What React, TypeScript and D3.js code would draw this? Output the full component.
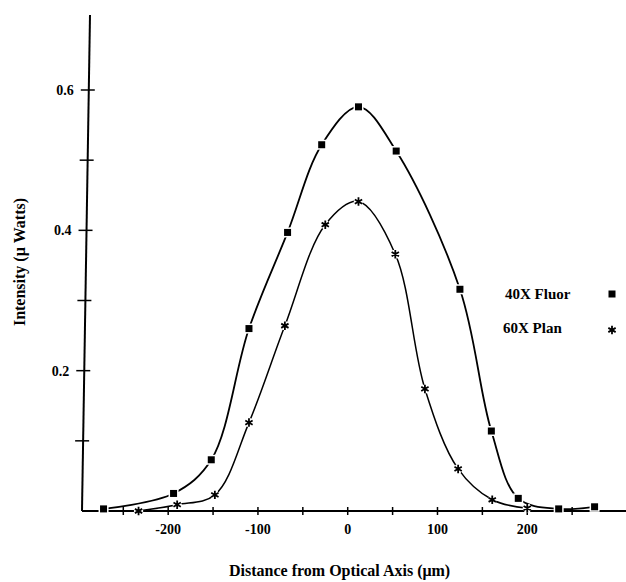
import React from 'react'
import * as d3 from 'd3'

// values
const fluorX = [-272, -194, -152, -110, -67, -29, 12, 54, 125, 160, 190, 235, 275]
const fluorY = [0.003, 0.025, 0.073, 0.26, 0.397, 0.522, 0.576, 0.513, 0.316, 0.114, 0.018, 0.003, 0.006]
const planX = [-233, -190, -148, -110, -70, -25, 12, 53, 86, 123, 161, 200]
const planY = [0, 0.009, 0.023, 0.126, 0.264, 0.408, 0.441, 0.366, 0.174, 0.06, 0.016, 0.004]

const xTicks = [-250, -200, -150, -100, -50, 0, 50, 100, 150, 200, 250]
const xLabels = [-200, -100, 0, 100, 200]
const yTicks = [0.1, 0.2, 0.3, 0.4, 0.5, 0.6]
const yLabels = [0.2, 0.4, 0.6]
const seriesNames = ['40X Fluor', '60X Plan']

const W = 626
const H = 582
const font = '"Liberation Serif", "Times New Roman", serif'

export default function App() {
  const x = d3.scaleLinear().domain([-296, 310]).range([82, 626])
  const y = d3.scaleLinear().domain([0, 0.6]).range([511, 90])
  const yTop = y.invert(15)
  // the scanned y axis leans a little to the right towards the top
  const axisX = d3.scaleLinear().domain([0, yTop]).range([x(-296), x(-296) + 8])

  const line = d3
    .line<[number, number]>()
    .x(d => x(d[0]))
    .y(d => y(d[1]))
    .curve(d3.curveCatmullRom.alpha(0.5))

  const fluor = fluorX.map((v, i) => [v, fluorY[i]] as [number, number])
  const plan = planX.map((v, i) => [v, planY[i]] as [number, number])

  const star = d3.symbol(d3.symbolAsterisk, 50)()
  const sq = 7

  const square = (cx: number, cy: number, key: string | number) => (
    <g key={key}>
      <rect x={cx - sq / 2 - 1.5} y={cy - sq / 2 - 1.5} width={sq + 3} height={sq + 3} fill="#fff" />
      <rect x={cx - sq / 2} y={cy - sq / 2} width={sq} height={sq} fill="#000" />
    </g>
  )
  const asterisk = (cx: number, cy: number, key: string | number) => (
    <g key={key} transform={`translate(${cx},${cy})`}>
      <path d={star || ''} stroke="#fff" strokeWidth={4.5} fill="none" />
      <path d={star || ''} stroke="#000" strokeWidth={1.8} fill="none" />
    </g>
  )

  return (
    <svg
      width={W}
      height={H}
      style={{ position: 'absolute', left: 0, top: 0, background: '#fff' }}
      fontFamily={font}
      fontWeight="bold"
    >
      {/* axes */}
      <line x1={axisX(0)} x2={axisX(yTop)} y1={y(0)} y2={y(yTop)} stroke="#000" strokeWidth={2} />
      <line x1={x(-296)} x2={x(310)} y1={y(0)} y2={y(0)} stroke="#000" strokeWidth={2} />
      {yTicks.map(t => (
        <line key={t} x1={axisX(t) - 8} x2={axisX(t) + 6} y1={y(t)} y2={y(t)} stroke="#000" strokeWidth={1.5} />
      ))}
      {yLabels.map(t => (
        <text key={t} x={axisX(t) - 15} y={y(t)} dy="0.35em" textAnchor="end" fontSize={14}>
          {t.toFixed(1)}
        </text>
      ))}
      {xTicks.map(t => (
        <line key={t} x1={x(t)} x2={x(t)} y1={y(0) - 4} y2={y(0) + 4} stroke="#000" strokeWidth={1.5} />
      ))}
      {xLabels.map(t => (
        <text key={t} x={x(t)} y={534} textAnchor="middle" fontSize={14}>
          {t}
        </text>
      ))}
      <text x={229} y={576} fontSize={16}>
        Distance from Optical Axis (μm)
      </text>
      <text transform={`translate(25,${262}) rotate(-90)`} textAnchor="middle" fontSize={16}>
        Intensity (μ Watts)
      </text>

      {/* curves */}
      <path d={line(fluor) || ''} fill="none" stroke="#000" strokeWidth={1.8} />
      <path d={line(plan) || ''} fill="none" stroke="#000" strokeWidth={1.5} />
      {fluor.map((d, i) => square(x(d[0]), y(d[1]), 'f' + i))}
      {plan.map((d, i) => asterisk(x(d[0]), y(d[1]), 'p' + i))}

      {/* legend */}
      <text x={505} y={299} fontSize={15}>{seriesNames[0]}</text>
      {square(612, 294, 'lf')}
      <text x={503} y={333} fontSize={15}>{seriesNames[1]}</text>
      {asterisk(612, 330, 'lp')}
    </svg>
  )
}
